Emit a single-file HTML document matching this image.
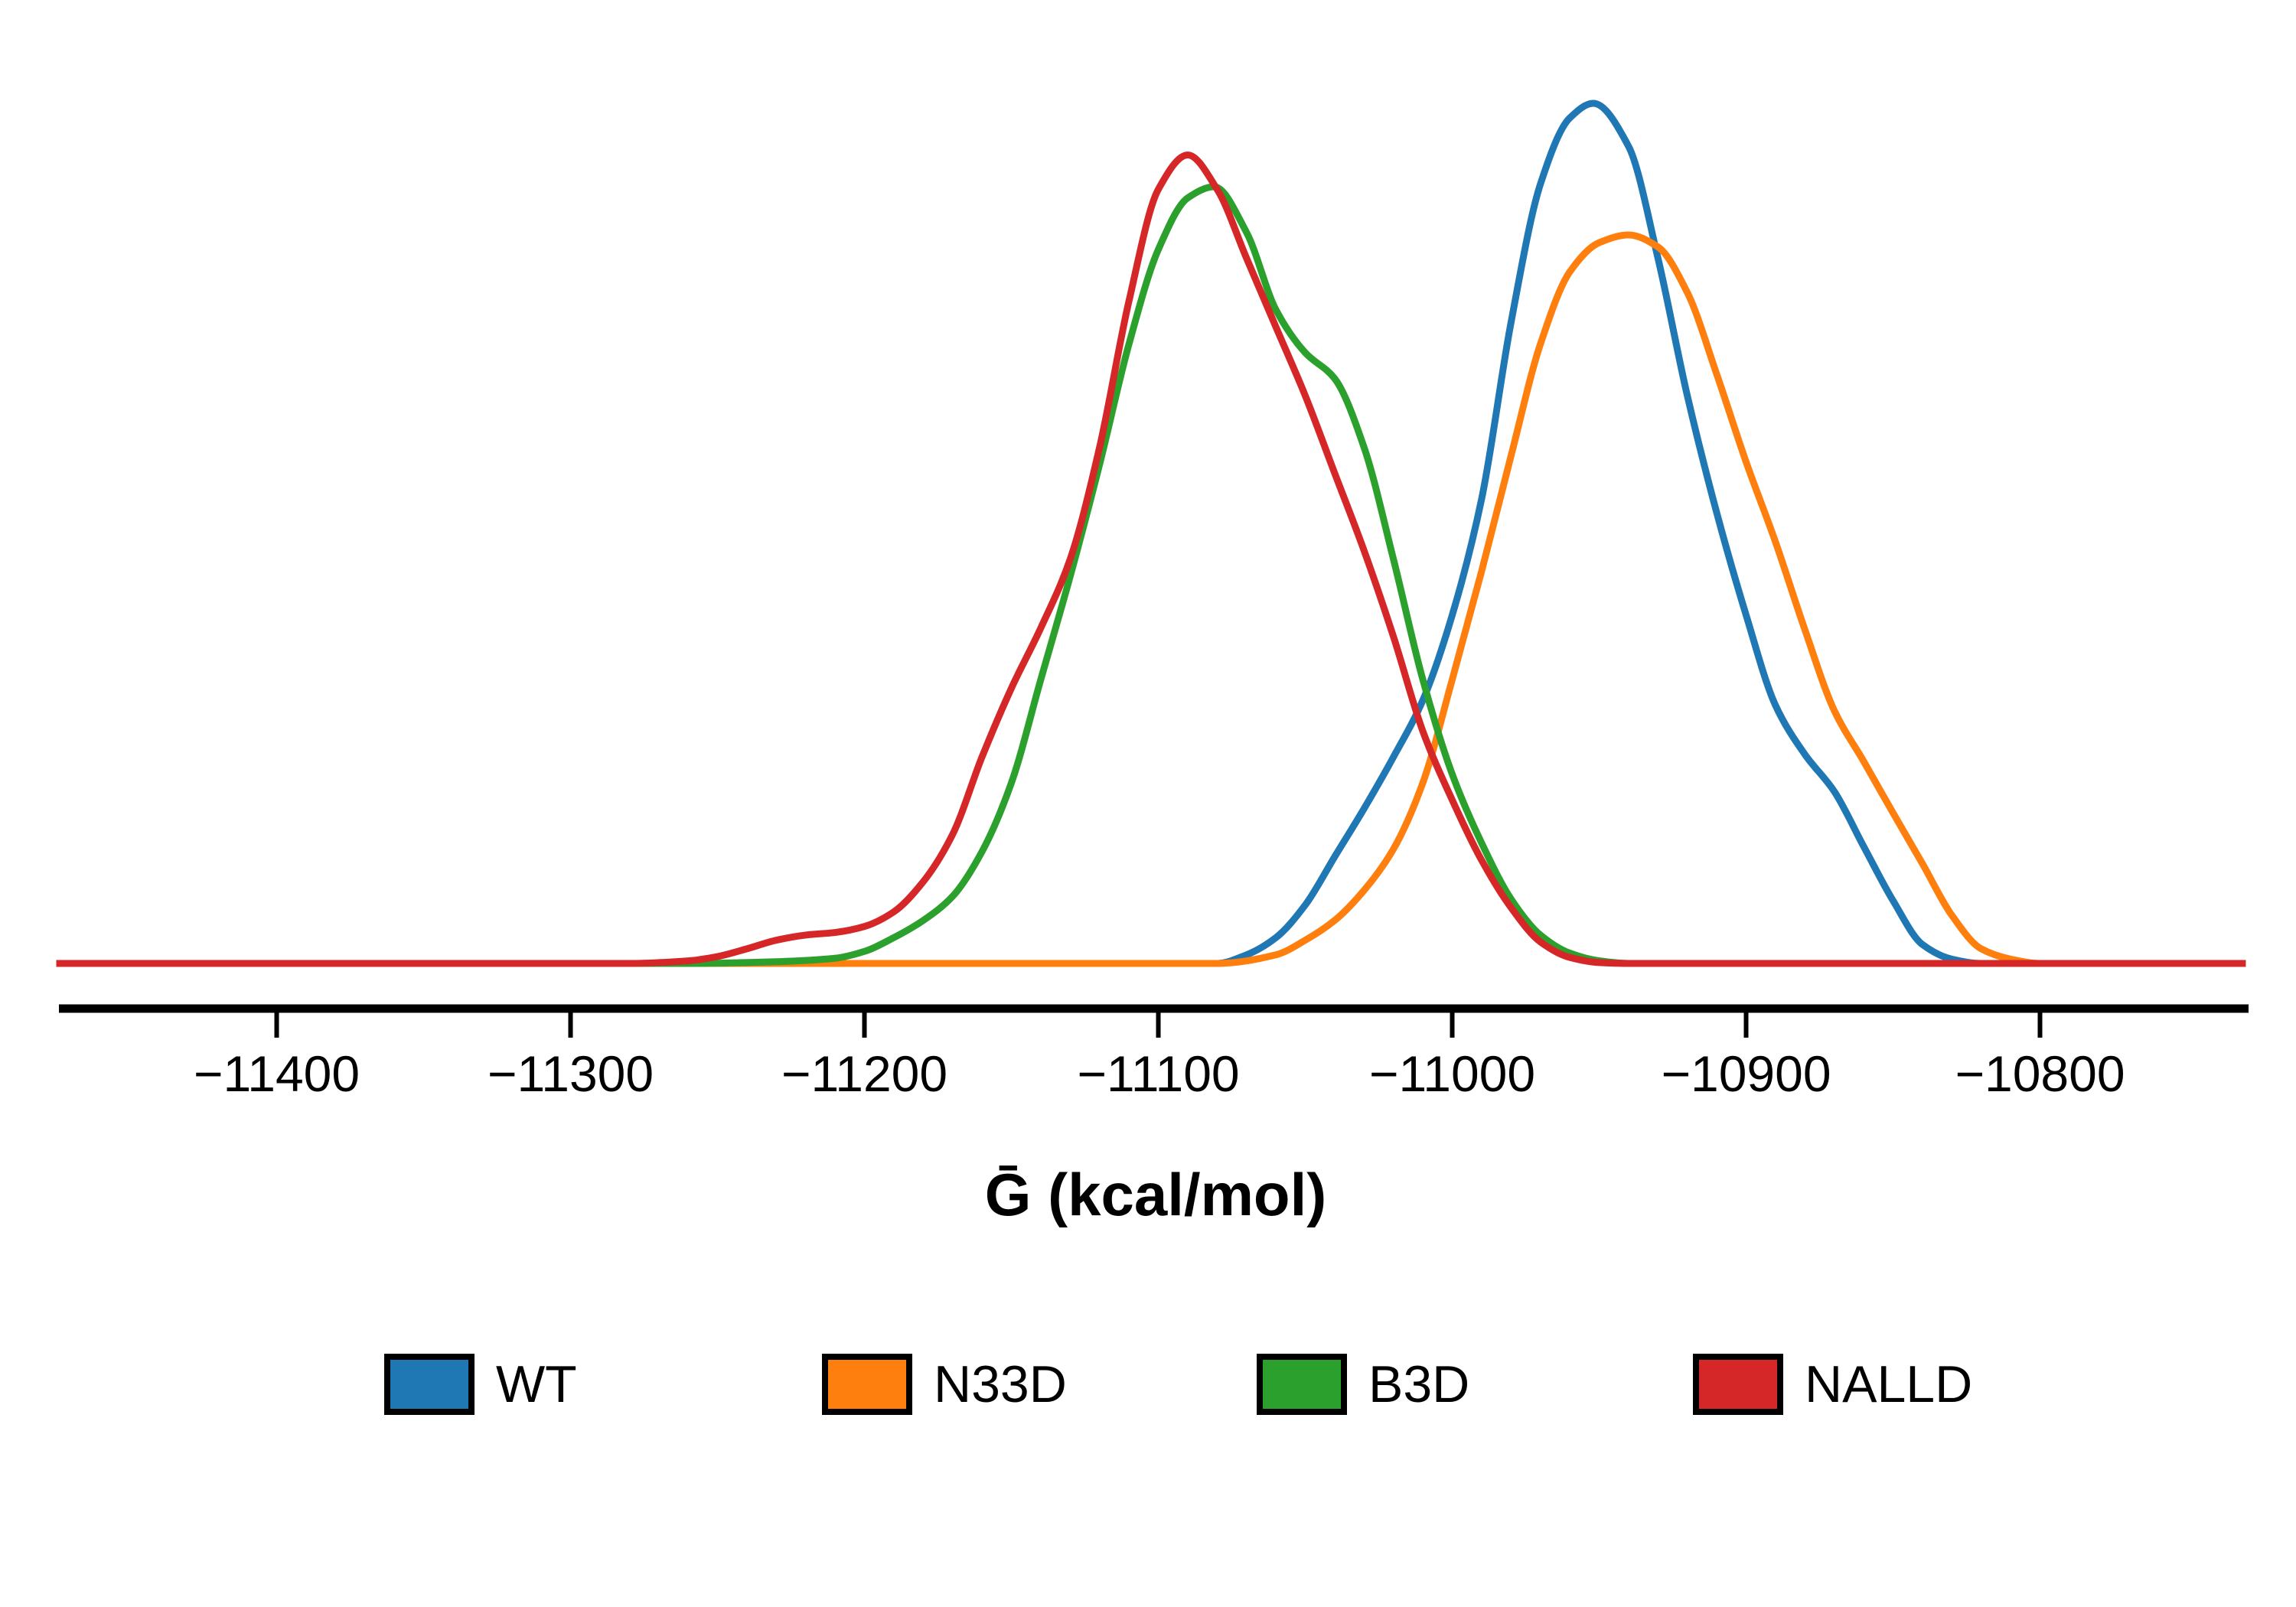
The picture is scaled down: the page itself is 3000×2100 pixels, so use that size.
<!DOCTYPE html>
<html><head><meta charset="utf-8"><style>
html,body{margin:0;padding:0;background:#fff;}
svg{display:block;font-family:"Liberation Sans",sans-serif;}
</style></head><body>
<svg id="chart" width="3000" height="2100" viewBox="0 0 3000 2100">
<g id="curves"></g>
<g id="axis"></g>
<text x="1510" y="1588" text-anchor="middle" font-size="78" font-weight="bold">G&#x0304; (kcal/mol)</text>
<g id="legend"></g>
</svg>
<script>
const ticks = [-11400,-11300,-11200,-11100,-11000,-10900,-10800];
const tickLabels = ["−11400","−11300","−11200","−11100","−11000","−10900","−10800"];
const seriesNames = ["WT","N33D","B3D","NALLD"];
const seriesColors = ["#1f77b4","#ff7f0e","#2ca02c","#d62728"];
const wtX = [-11475,-11080,-11070,-11060,-11050,-11040,-11030,-11020,-11010,-11000,-10990,-10980,-10970,-10960,-10952,-10940,-10930,-10920,-10910,-10900,-10890,-10880,-10870,-10860,-10850,-10840,-10830,-10820,-10730];
const wtY = [0,0,0.01,0.03,0.068,0.124,0.18,0.24,0.306,0.405,0.54,0.745,0.906,0.983,1.0,0.95,0.82,0.66,0.524,0.405,0.3,0.243,0.2,0.136,0.073,0.022,0.005,0,0];
const n33X = [-11475,-11080,-11060,-11050,-11040,-11030,-11020,-11010,-11000,-10990,-10980,-10970,-10960,-10950,-10940,-10930,-10920,-10910,-10900,-10890,-10880,-10870,-10860,-10850,-10840,-10830,-10820,-10810,-10800,-10730];
const n33Y = [0,0,0.01,0.027,0.05,0.085,0.133,0.21,0.33,0.456,0.59,0.72,0.804,0.838,0.847,0.833,0.78,0.685,0.583,0.49,0.388,0.294,0.235,0.175,0.116,0.056,0.017,0.005,0,0];
const b3dX = [-11475,-11260,-11230,-11210,-11200,-11190,-11180,-11170,-11160,-11150,-11140,-11130,-11120,-11110,-11100,-11090,-11081,-11070,-11060,-11050,-11040,-11030,-11020,-11010,-11000,-10990,-10980,-10970,-10960,-10950,-10940,-10730];
const b3dY = [0,0,0.002,0.006,0.014,0.03,0.05,0.078,0.13,0.21,0.33,0.45,0.58,0.72,0.83,0.89,0.903,0.85,0.76,0.71,0.68,0.6,0.47,0.33,0.22,0.14,0.075,0.033,0.012,0.003,0,0];
const nallX = [-11475,-11280,-11260,-11250,-11240,-11230,-11220,-11210,-11200,-11190,-11180,-11170,-11160,-11150,-11140,-11130,-11120,-11110,-11100,-11090,-11080,-11070,-11060,-11050,-11040,-11030,-11020,-11010,-11000,-10990,-10980,-10970,-10960,-10950,-10940,-10730];
const nallY = [0,0,0.003,0.008,0.017,0.027,0.033,0.036,0.043,0.06,0.095,0.15,0.24,0.32,0.39,0.47,0.6,0.77,0.9,0.94,0.9,0.82,0.74,0.66,0.57,0.48,0.38,0.27,0.19,0.12,0.065,0.025,0.007,0.001,0,0];

const NS = "http://www.w3.org/2000/svg";
function xs(v){ return 361.5 + (v + 11400) * 3.84; }
function ys(d){ return 1259 - d * 1124; }
function mk(tag, attrs, parent){ const e=document.createElementNS(NS,tag); for(const k in attrs) e.setAttribute(k,attrs[k]); parent.appendChild(e); return e; }
function pathFor(X,Y){
  const px = X.map(xs), py = Y.map(ys), n = px.length;
  const dl = [], m = new Array(n);
  for(let i=0;i<n-1;i++) dl.push((py[i+1]-py[i])/(px[i+1]-px[i]));
  m[0]=dl[0]; m[n-1]=dl[n-2];
  for(let i=1;i<n-1;i++){
    if(dl[i-1]*dl[i]<=0) m[i]=0;
    else { const h0=px[i]-px[i-1], h1=px[i+1]-px[i]; const w1=2*h1+h0, w2=h1+2*h0; m[i]=(w1+w2)/(w1/dl[i-1]+w2/dl[i]); }
  }
  let d = "M"+px[0]+","+py[0];
  for(let i=0;i<n-1;i++){
    const h=(px[i+1]-px[i])/3;
    d+=" C"+(px[i]+h)+","+(py[i]+m[i]*h)+" "+(px[i+1]-h)+","+(py[i+1]-m[i+1]*h)+" "+px[i+1]+","+py[i+1];
  }
  return d;
}
const curves = document.getElementById("curves");
const data = [[wtX,wtY],[n33X,n33Y],[b3dX,b3dY],[nallX,nallY]];
data.forEach((s,i)=>{
  const el = mk("path",{d:pathFor(s[0],s[1]),fill:"none",stroke:seriesColors[i],"stroke-width":9,"stroke-linejoin":"round"},curves);
  
  
});
const axis = document.getElementById("axis");
const ax = mk("line",{x1:77,x2:2938,y1:1318,y2:1318,stroke:"#000","stroke-width":11},axis);


ticks.forEach((t,i)=>{
  const tk = mk("line",{x1:xs(t),x2:xs(t),y1:1318,y2:1356,stroke:"#000","stroke-width":6},axis);
  
  
  const lb = mk("text",{x:xs(t),y:1426,"text-anchor":"middle","font-size":66},axis);
  lb.textContent = tickLabels[i];
  
  
});
const legend = document.getElementById("legend");
const legX = [502,1074,1642,2212];
seriesNames.forEach((n,i)=>{
  const g = mk("g",{},legend);
  
  
  const r = mk("rect",{x:legX[i]+4,y:1773,width:110,height:72,fill:seriesColors[i],stroke:"#000","stroke-width":8},g);
  
  
  const t = mk("text",{x:legX[i]+146,y:1832,"font-size":68},g);
  t.textContent = n;
  
  
});
</script>
</body></html>
